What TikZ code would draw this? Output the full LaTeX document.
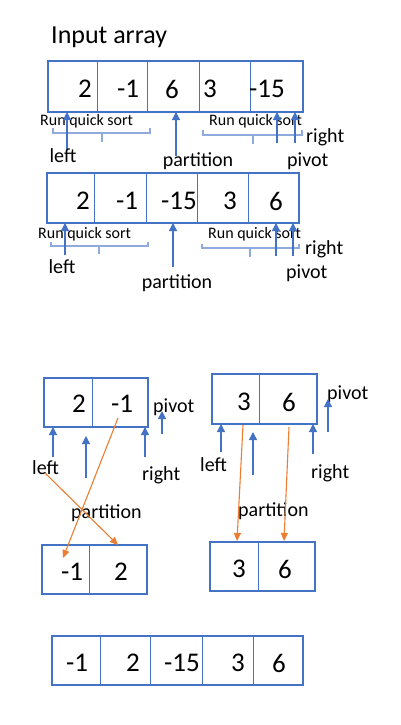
\documentclass[tikz,border=0pt]{standalone}
\usepackage{fontspec}
\setmainfont{Carlito}
\usetikzlibrary{arrows.meta}
\definecolor{obl}{HTML}{4472C4}
\definecolor{lbl}{HTML}{8FAADC}
\definecolor{org}{HTML}{ED7D31}
\begin{document}
\begin{tikzpicture}[x=1pt,y=-1pt,
  arr/.style={draw=obl,line width=2pt},
  dv/.style={draw=obl,line width=1pt},
  num/.style={font=\fontsize{27}{29}\selectfont,inner sep=0pt},
  lab/.style={font=\fontsize{20}{22}\selectfont,inner sep=0pt},
  rqs/.style={font=\fontsize{16}{18}\selectfont,inner sep=0pt,anchor=west},
  brk/.style={draw=lbl,line width=1.2pt},
  up/.style={draw=obl,line width=1.2pt,-{Triangle[length=8pt,width=8pt]}},
  oa/.style={draw=org,line width=1.1pt,-{Triangle[length=8pt,width=7pt]}}]
\useasboundingbox[fill=white] (0,0) rectangle (401,725);
\node[font=\fontsize{26}{28}\selectfont,inner sep=0pt,anchor=west] (title) at (51,37) {Input array};
% ---------- array 1
\node[arr,minimum width=255pt,minimum height=51pt,inner sep=0pt] (A1) at (175.5,86.5) {};
\foreach \x in {97,147,199,250}{\draw[dv] (\x,61) -- (\x,112);}
\node[num] (a11) at (85,89) {2};
\node[num] (a12) at (128,89) {-1};
\node[num] (a13) at (172,89) {6};
\node[num] (a14) at (210,89) {3};
\node[num] (a15) at (267,89) {-15};
\node[rqs] (r11) at (40,121) {Run quick sort};
\node[rqs] (r12) at (209,121) {Run quick sort};
\draw[brk] (53,128) -- (53,133) -- (150,133) -- (150,128) (102,133) -- (102,142);
\draw[brk] (203,130) -- (203,135) -- (302,135) -- (302,130) (253,135) -- (253,144);
\coordinate (t11) at (67,150); \coordinate (h11) at (67,112);
\coordinate (t12) at (176,156); \coordinate (h12) at (176,112);
\coordinate (t13) at (277,143); \coordinate (h13) at (277,112);
\coordinate (t14) at (295,143); \coordinate (h14) at (295,112);
\foreach \i in {1,2,3,4}{\draw[up] (t1\i) -- (h1\i);}
\node[lab] (l1) at (63,156) {left};
\node[lab] (p1) at (198,161) {partition};
\node[lab,anchor=west] (rt1) at (306,137) {right};
\node[lab,anchor=west] (pv1) at (287,161) {pivot};
% ---------- array 2
\node[arr,minimum width=252pt,minimum height=50pt,inner sep=0pt] (A2) at (173,198) {};
\foreach \x in {94,146,197,248}{\draw[dv] (\x,173) -- (\x,223);}
\node[num] (a21) at (83,201) {2};
\node[num] (a22) at (127,201) {-1};
\node[num] (a23) at (179,201) {-15};
\node[num] (a24) at (230,201) {3};
\node[num] (a25) at (276,201) {6};
\node[rqs] (r21) at (38,234) {Run quick sort};
\node[rqs] (r22) at (208,234) {Run quick sort};
\draw[brk] (51,242) -- (51,246) -- (148,246) -- (148,242) (99,246) -- (99,254);
\draw[brk] (202,244) -- (202,248) -- (299,248) -- (299,244) (250,248) -- (250,257);
\coordinate (t21) at (65,255); \coordinate (h21) at (65,223);
\coordinate (t22) at (173,267); \coordinate (h22) at (173,223);
\coordinate (t23) at (276,256); \coordinate (h23) at (276,223);
\coordinate (t24) at (293,256); \coordinate (h24) at (293,223);
\foreach \i in {1,2,3,4}{\draw[up] (t2\i) -- (h2\i);}
\node[lab] (l2) at (62,267) {left};
\node[lab] (p2) at (177,283) {partition};
\node[lab,anchor=west] (rt2) at (305,249) {right};
\node[lab,anchor=west] (pv2) at (286,273) {pivot};
% ---------- left sub-array
\node[arr,minimum width=104pt,minimum height=49pt,inner sep=0pt] (B1) at (96,402.5) {};
\draw[dv] (92,378) -- (92,427);
\node[num] (b11) at (79,404) {2};
\node[num] (b12) at (122,404) {-1};
\node[lab,anchor=west] (pv3) at (153,407) {pivot};
\coordinate (t31) at (53,457); \coordinate (h31) at (53,427);
\coordinate (t32) at (86,478); \coordinate (h32) at (86,436);
\coordinate (t33) at (145,457); \coordinate (h33) at (145,427);
\coordinate (t34) at (162,434); \coordinate (h34) at (162,411);
\foreach \i in {1,2,3,4}{\draw[up] (t3\i) -- (h3\i);}
\node[lab,anchor=west] (l3) at (32,468) {left};
\node[lab,anchor=west] (rt3) at (142,475) {right};
\node[lab,anchor=west] (p3) at (71,513) {partition};
\node[arr,minimum width=105pt,minimum height=49pt,inner sep=0pt] (C1) at (94.5,569.5) {};
\draw[dv] (89,545) -- (89,594);
\node[num] (c11) at (72,572) {-1};
\node[num] (c12) at (121,572) {2};
\coordinate (o11) at (118,418); \coordinate (o12) at (63,558);
\coordinate (o21) at (45,473); \coordinate (o22) at (118,545);
\draw[oa] (o11) -- (o12);
\draw[oa] (o21) -- (o22);
% ---------- right sub-array
\node[arr,minimum width=105pt,minimum height=50pt,inner sep=0pt] (B2) at (264.5,399) {};
\draw[dv] (259,374) -- (259,424);
\node[num] (b21) at (244,402) {3};
\node[num] (b22) at (289,402) {6};
\node[lab,anchor=west] (pv4) at (327,394) {pivot};
\coordinate (t41) at (221,452); \coordinate (h41) at (221,424);
\coordinate (t42) at (253,475); \coordinate (h42) at (253,432);
\coordinate (t43) at (313,454); \coordinate (h43) at (313,424);
\coordinate (t44) at (328,432); \coordinate (h44) at (328,399);
\foreach \i in {1,2,3,4}{\draw[up] (t4\i) -- (h4\i);}
\node[lab,anchor=west] (l4) at (200,465) {left};
\node[lab,anchor=west] (rt4) at (311,473) {right};
\node[lab,anchor=west] (p4) at (238,511) {partition};
\node[arr,minimum width=105pt,minimum height=49pt,inner sep=0pt] (C2) at (262.5,566.5) {};
\draw[dv] (258,542) -- (258,591);
\node[num] (c21) at (239,569) {3};
\node[num] (c22) at (285,569) {6};
\coordinate (o31) at (243,425); \coordinate (o32) at (237,541);
\coordinate (o41) at (289,427); \coordinate (o42) at (284,541);
\draw[oa] (o31) -- (o32);
\draw[oa] (o41) -- (o42);
% ---------- final array
\node[arr,minimum width=251pt,minimum height=49pt,inner sep=0pt] (F) at (177.5,660.5) {};
\foreach \x in {100,150,202,253}{\draw[dv] (\x,636) -- (\x,685);}
\node[num] (f1) at (77,663) {-1};
\node[num] (f2) at (133,663) {2};
\node[num] (f3) at (182,663) {-15};
\node[num] (f4) at (238,663) {3};
\node[num] (f5) at (279,663) {6};
\end{tikzpicture}
\end{document}
